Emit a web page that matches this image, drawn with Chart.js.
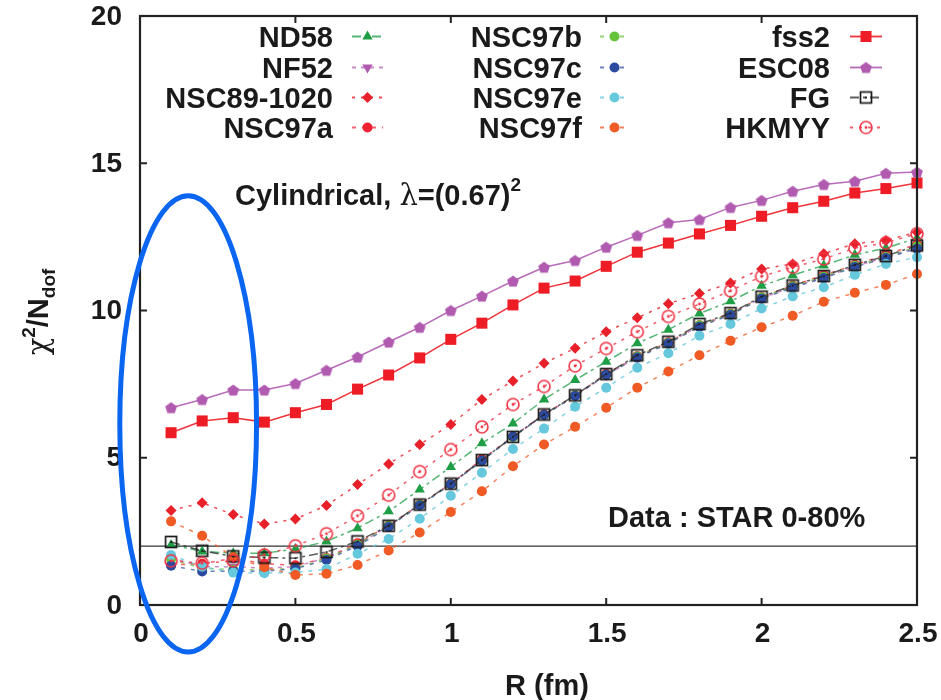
<!DOCTYPE html>
<html><head><meta charset="utf-8">
<script src="https://cdn.jsdelivr.net/npm/chart.js@4.4.0/dist/chart.umd.min.js"></script>
<style>html,body{margin:0;padding:0;background:#fff;}#wrap{width:941px;height:700px;position:relative;}</style>
</head><body><div id="wrap"><canvas id="c"></canvas></div>
<script>
// ---------- data ----------
const R = [0.1,0.2,0.3,0.4,0.5,0.6,0.7,0.8,0.9,1.0,1.1,1.2,1.3,1.4,1.5,1.6,1.7,1.8,1.9,2.0,2.1,2.2,2.3,2.4,2.5];
const ND58      = [2.04,1.82,1.76,1.76,1.90,2.16,2.61,3.18,3.92,4.69,5.49,6.16,6.98,7.64,8.26,8.89,9.35,9.90,10.31,10.84,11.20,11.53,11.89,12.12,12.46];
const NF52      = [1.60,1.30,1.30,1.25,1.30,1.60,2.05,2.68,3.40,4.10,4.90,5.70,6.45,7.10,7.80,8.42,8.90,9.48,9.88,10.42,10.80,11.12,11.50,11.80,12.15];
const NSC89     = [3.21,3.47,3.07,2.75,2.92,3.38,4.09,4.79,5.45,6.13,6.98,7.61,8.21,8.72,9.28,9.75,10.23,10.58,10.93,11.41,11.58,11.93,12.27,12.38,12.66];
const NSC97a    = [1.36,1.40,1.59,1.40,1.35,1.60,2.10,2.70,3.42,4.12,4.95,5.72,6.48,7.12,7.85,8.45,8.92,9.50,9.90,10.45,10.85,11.20,11.55,11.90,12.25];
const NSC97b    = [1.55,1.25,1.20,1.20,1.25,1.58,2.05,2.68,3.40,4.10,4.90,5.70,6.45,7.12,7.82,8.44,8.90,9.50,9.88,10.44,10.82,11.15,11.52,11.82,12.18];
const NSC97c    = [1.33,1.14,1.15,1.15,1.23,1.53,2.00,2.65,3.38,4.10,4.90,5.72,6.45,7.10,7.82,8.40,8.88,9.45,9.85,10.40,10.78,11.10,11.48,11.78,12.10];
const NSC97e    = [1.70,1.30,1.10,1.08,1.10,1.22,1.74,2.24,2.93,3.71,4.49,5.30,5.99,6.73,7.38,8.06,8.55,9.14,9.54,10.07,10.48,10.79,11.21,11.58,11.81];
const NSC97f    = [2.84,2.35,1.63,1.28,1.02,1.06,1.36,1.85,2.46,3.16,3.86,4.71,5.45,6.05,6.70,7.38,7.93,8.48,8.97,9.43,9.82,10.30,10.60,10.87,11.24];
const fss2      = [5.85,6.25,6.36,6.21,6.53,6.81,7.33,7.81,8.39,9.02,9.57,10.19,10.76,11.00,11.50,11.98,12.29,12.60,12.89,13.20,13.49,13.71,13.99,14.14,14.33];
const ESC08     = [6.70,6.98,7.30,7.30,7.52,7.97,8.42,8.93,9.43,10.00,10.49,11.00,11.47,11.70,12.15,12.55,12.98,13.09,13.50,13.74,14.05,14.28,14.39,14.66,14.70];
const FG        = [2.14,1.84,1.65,1.61,1.59,1.80,2.16,2.69,3.41,4.12,4.92,5.71,6.47,7.12,7.84,8.48,8.94,9.54,9.91,10.47,10.85,11.17,11.55,11.85,12.21];
const HKMYY     = [1.50,1.42,1.50,1.70,2.01,2.42,3.03,3.73,4.53,5.28,6.05,6.81,7.42,8.12,8.71,9.28,9.80,10.22,10.67,11.16,11.47,11.75,12.12,12.30,12.61];
const seriesNames  = ['ND58','NF52','NSC89-1020','NSC97a','NSC97b','NSC97c','NSC97e','NSC97f','fss2','ESC08','FG','HKMYY'];
const seriesValues = [ND58,NF52,NSC89,NSC97a,NSC97b,NSC97c,NSC97e,NSC97f,fss2,ESC08,FG,HKMYY];
const xTickValues = [0,0.5,1,1.5,2,2.5];
const xTickLabels = ['0','0.5','1','1.5','2','2.5'];
const yTickValues = [0,5,10,15,20];
const yTickLabels = ['0','5','10','15','20'];
const refLevel = 2;
const ellipseCenter = [0.155, 6.15];
const ellipseRadii  = [0.22, 7.75];

// ---------- styles ----------
function mk(size, draw){ const c=document.createElement('canvas'); c.width=size; c.height=size; draw(c.getContext('2d'),size); return c; }
const pentagon = mk(16,(g,s)=>{ g.fillStyle='#b05bb0'; g.beginPath(); for(let i=0;i<5;i++){ const a=-Math.PI/2+i*2*Math.PI/5; const x=s/2+6.2*Math.cos(a), y=s/2+0.6+6.2*Math.sin(a); i?g.lineTo(x,y):g.moveTo(x,y);} g.closePath(); g.fill(); });
const openSq = mk(16,(g,s)=>{ g.strokeStyle='#1a1a1a'; g.lineWidth=1.7; g.strokeRect(2.5,2.5,11,11); g.fillStyle='#1a1a1a'; g.fillRect(7.2,7.2,1.8,1.8); });
const openCirc = mk(18,(g,s)=>{ g.strokeStyle='#ee3344'; g.lineWidth=1.6; g.beginPath(); g.arc(9,9,6,0,2*Math.PI); g.stroke(); g.fillStyle='#ee3344'; g.beginPath(); g.arc(9,9,1.4,0,2*Math.PI); g.fill(); });

const styles = [
 {c:'#1f9e45', line:'rgba(31,158,69,0.75)',  dash:[9,4,3,4], ps:'triangle', r:6},
 {c:'#b05bb0', line:'rgba(176,91,176,0.7)',  dash:[4,5], ps:'triangle', r:6, rot:180},
 {c:'#e8202a', line:'rgba(232,32,42,0.8)',   dash:[3,6], ps:'rectRot', r:5.5},
 {c:'#ee2233', line:'rgba(238,34,51,0.7)',   dash:[4,6], ps:'circle', r:5},
 {c:'#66c23a', line:'rgba(102,194,58,0.7)',  dash:[4,6], ps:'circle', r:5},
 {c:'#2c4aa0', line:'rgba(44,74,160,0.7)',   dash:[4,6], ps:'circle', r:5},
 {c:'#66c8dc', line:'rgba(102,200,220,0.8)', dash:[4,6], ps:'circle', r:5},
 {c:'#f05a24', line:'rgba(240,90,36,0.75)',  dash:[4,6], ps:'circle', r:5},
 {c:'#ee1c24', line:'rgba(238,28,36,0.9)',   dash:[],    ps:'rect', r:7.8},
 {c:'#b05bb0', line:'rgba(176,91,176,0.9)',  dash:[],    ps:pentagon, r:7},
 {c:'#1a1a1a', line:'rgba(40,40,40,0.75)',   dash:[9,4,3,4], ps:openSq, r:7},
 {c:'#ee3344', line:'rgba(238,51,68,0.8)',   dash:[3,6], ps:openCirc, r:7}
];

const FONT = '"Liberation Sans", Arial, Helvetica, sans-serif';
const TXT = '#1a1a1a';

const datasets = seriesNames.map((name,k)=>{
  const s = styles[k];
  return {
    label: name,
    data: R.map((r,i)=>({x:r, y:seriesValues[k][i]})),
    borderColor: s.line, borderWidth: 1.5, borderDash: s.dash,
    backgroundColor: s.c,
    pointStyle: s.ps, pointRadius: s.r, pointRotation: s.rot||0,
    pointBackgroundColor: s.c, pointBorderColor: s.c, pointBorderWidth: 0,
    pointHoverRadius: s.r, tension: 0, clip: false, order: 12-k
  };
});

const legendCols = [
  {names:['ND58','NF52','NSC89-1020','NSC97a'], textRight:333, x0:352, x1:383},
  {names:['NSC97b','NSC97c','NSC97e','NSC97f'], textRight:582, x0:600, x1:629},
  {names:['fss2','ESC08','FG','HKMYY'],         textRight:830, x0:850, x1:882}
];
const legendBaselines = [47,78,108,138];

const decor = {
  id:'decor',
  beforeDatasetsDraw(chart){
    const {ctx, chartArea:a, scales:{y}} = chart;
    const py = y.getPixelForValue(refLevel);
    ctx.save(); ctx.strokeStyle='#333'; ctx.lineWidth=1.4;
    ctx.beginPath(); ctx.moveTo(a.left,py); ctx.lineTo(a.right,py); ctx.stroke(); ctx.restore();
  },
  afterDatasetsDraw(chart){
    const {ctx, chartArea:a, scales:{x,y}} = chart;
    ctx.save();
    // frame
    ctx.strokeStyle='#222'; ctx.lineWidth=2.2;
    ctx.strokeRect(a.left,a.top,a.right-a.left,a.bottom-a.top);
    // inward ticks
    ctx.lineWidth=2;
    const TL=7;
    xTickValues.forEach(v=>{ const px=x.getPixelForValue(v);
      ctx.beginPath(); ctx.moveTo(px,a.bottom); ctx.lineTo(px,a.bottom-TL); ctx.moveTo(px,a.top); ctx.lineTo(px,a.top+TL); ctx.stroke(); });
    yTickValues.forEach(v=>{ const py=y.getPixelForValue(v);
      ctx.beginPath(); ctx.moveTo(a.left,py); ctx.lineTo(a.left+TL,py); ctx.moveTo(a.right,py); ctx.lineTo(a.right-TL,py); ctx.stroke(); });
    // tick labels
    ctx.fillStyle=TXT; ctx.font='bold 28px '+FONT;
    ctx.textAlign='center'; ctx.textBaseline='middle';
    xTickValues.forEach((v,i)=>ctx.fillText(xTickLabels[i], x.getPixelForValue(v)+1, a.bottom+29));
    ctx.textAlign='right';
    yTickValues.forEach((v,i)=>ctx.fillText(yTickLabels[i], a.left-18, y.getPixelForValue(v)+1));
    // x title
    ctx.textAlign='center'; ctx.textBaseline='alphabetic';
    ctx.font='bold 29px '+FONT;
    ctx.fillText('R (fm)', 547, 695);
    // y title
    ctx.save(); ctx.translate(48, 312); ctx.rotate(-Math.PI/2);
    const parts = [
      {t:'\u03C7', f:'29px "DejaVu Serif", serif', dy:0},
      {t:'2', f:'bold 19px '+FONT, dy:-13},
      {t:'/N', f:'bold 29px '+FONT, dy:0},
      {t:'dof', f:'bold 19px '+FONT, dy:7}
    ];
    let tw=0; parts.forEach(p=>{ctx.font=p.f; p.w=ctx.measureText(p.t).width; tw+=p.w;});
    let cx=-tw/2; ctx.textAlign='left';
    parts.forEach(p=>{ctx.font=p.f; ctx.fillText(p.t,cx,p.dy); cx+=p.w;});
    ctx.restore();
    // annotations
    ctx.textAlign='left'; ctx.textBaseline='alphabetic';
    let tx=235; const tb=205;
    const ann = [
      {t:'Cylindrical, ', f:'bold 29px '+FONT, dy:0},
      {t:'\u03BB', f:'29px "DejaVu Serif", serif', dy:0},
      {t:'=(0.67)', f:'bold 29px '+FONT, dy:0},
      {t:'2', f:'bold 19px '+FONT, dy:-14}
    ];
    ann.forEach(p=>{ctx.font=p.f; ctx.fillText(p.t,tx,tb+p.dy); tx+=ctx.measureText(p.t).width;});
    ctx.font='bold 29px '+FONT;
    ctx.fillText('Data : STAR 0-80%', 608, 527);
    // legend
    const dsByName = {}; chart.data.datasets.forEach((d,k)=>dsByName[d.label]=k);
    legendCols.forEach(col=>{
      col.names.forEach((nm,row)=>{
        const k = dsByName[nm]; const s = styles[k];
        const bl = legendBaselines[row]; const my = bl-10.5;
        ctx.font='bold 29px '+FONT; ctx.fillStyle=TXT; ctx.textAlign='right';
        ctx.fillText(nm, col.textRight, bl);
        ctx.save(); ctx.strokeStyle=s.line; ctx.lineWidth=1.8; ctx.setLineDash(s.dash);
        ctx.beginPath(); ctx.moveTo(col.x0,my); ctx.lineTo(col.x1,my); ctx.stroke(); ctx.restore();
        ctx.save(); ctx.fillStyle=s.c; ctx.strokeStyle=s.c;
        Chart.helpers.drawPoint(ctx,{pointStyle:s.ps, radius:s.r, rotation:s.rot||0, borderWidth:0}, (col.x0+col.x1)/2, my);
        ctx.restore();
      });
    });
    ctx.restore();
  },
  afterDraw(chart){
    const {ctx, scales:{x,y}} = chart;
    const cx=x.getPixelForValue(ellipseCenter[0]), cy=y.getPixelForValue(ellipseCenter[1]);
    const rx=x.getPixelForValue(ellipseCenter[0]+ellipseRadii[0])-cx;
    const ry=cy-y.getPixelForValue(ellipseCenter[1]+ellipseRadii[1]);
    ctx.save(); ctx.strokeStyle='#0a66f0'; ctx.lineWidth=5;
    ctx.beginPath(); ctx.ellipse(cx,cy,rx,ry,0,0,2*Math.PI); ctx.stroke(); ctx.restore();
  }
};

new Chart(document.getElementById('c'), {
  type:'line',
  data:{datasets},
  options:{
    responsive:true, maintainAspectRatio:false, animation:false,
    layout:{padding:{left:140,right:24,top:16,bottom:95}},
    plugins:{legend:{display:false}, tooltip:{enabled:false}},
    scales:{
      x:{type:'linear', min:0, max:2.5, display:false},
      y:{type:'linear', min:0, max:20, display:false}
    }
  },
  plugins:[decor]
});
</script></body></html>
